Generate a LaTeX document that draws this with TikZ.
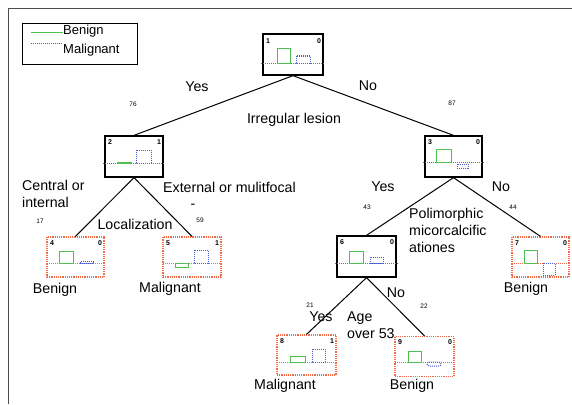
\documentclass[tikz,border=0pt]{standalone}
\usepackage{fontspec}
\setmainfont{Liberation Sans}
\definecolor{bgreen}{HTML}{4FC04F}
\definecolor{mblue}{HTML}{4A5AD0}
\definecolor{leafred}{HTML}{F06A4A}
\definecolor{divgray}{HTML}{707070}
\begin{document}
\begin{tikzpicture}[x=1pt,y=-1pt,
  intbox/.style={draw=black,line width=1.3pt,minimum width=#1,minimum height=41pt,inner sep=0pt},
  leafbox/.style={draw=leafred,densely dotted,line width=1.2pt,minimum width=#1,minimum height=40pt,inner sep=0pt},
  edge/.style={draw=black,line width=1pt},
  lbl/.style={font=\fontsize{14.2}{16}\selectfont,inner sep=0pt},
  leglbl/.style={font=\fontsize{13}{15}\selectfont,inner sep=0pt},
  mlbl/.style={font=\fontsize{14.2}{17}\selectfont,inner sep=0pt,align=left},
  num/.style={font=\fontsize{6.5}{7}\selectfont,inner sep=0pt},
  cnum/.style={font=\fontsize{7}{8}\selectfont\bfseries,inner sep=0pt},
  gbar/.style={draw=bgreen,line width=1pt},
  bbar/.style={draw=mblue,densely dotted,line width=1pt},
  gdiv/.style={draw=divgray,densely dotted,line width=1pt},
  rdiv/.style={draw=leafred,densely dotted,line width=1pt}]
\useasboundingbox (0,0) rectangle (572,404);
% frame
\draw[line width=0.6pt,black!70] (8,404) -- (8,8) -- (572,8);
% legend
\node[draw=black,line width=1pt,minimum width=115pt,minimum height=40pt,inner sep=0pt] (legend) at (79.5,44) {};
\coordinate (lg1a) at (31,33); \coordinate (lg1b) at (63,33);
\coordinate (lg2a) at (31,44); \coordinate (lg2b) at (63,44);
\draw[gbar] (lg1a) -- (lg1b);
\draw[bbar] (lg2a) -- (lg2b);
\node[leglbl,anchor=west] (legben) at (63,31) {Benign};
\node[leglbl,anchor=west] (legmal) at (63,50) {Malignant};
% nodes
\node[intbox=60pt] (n1) at (293,54.5) {};
\node[intbox=58pt] (n2) at (134,156.5) {};
\node[intbox=57pt] (n3) at (453.5,156.5) {};
\node[leafbox=57pt] (n4) at (75.5,257) {};
\node[leafbox=58pt] (n5) at (192,257) {};
\node[intbox=59pt] (n6) at (366.5,256.5) {};
\node[leafbox=57pt] (n7) at (540.5,257) {};
\node[leafbox=59pt] (n8) at (306.5,355) {};
\node[leafbox=59pt] (n9) at (424.5,356.5) {};
% dividers
\draw[gdiv] (261,63) -- (325,63);
\draw[gdiv] (103,163) -- (165,163);
\draw[gdiv] (423,162) -- (484,162);
\draw[gdiv] (335,263) -- (398,263);
\draw[rdiv] (47,263) -- (104,263);
\draw[rdiv] (163,263) -- (221,263);
\draw[rdiv] (512,263) -- (569,263);
\draw[rdiv] (277,362) -- (336,362);
\draw[rdiv] (395,362) -- (454,362);
% bars
\draw[gbar] (277,49) rectangle (290,63);
\draw[bbar] (296,56) rectangle (310,63);
\draw[gbar,line width=1.4pt] (117,163) -- (132,163);
\draw[bbar] (136,150) rectangle (151,163);
\draw[gbar] (436,149) rectangle (451,162);
\draw[bbar] (457,164) rectangle (468,168);
\draw[gbar] (59,251) rectangle (73,263);
\draw[bbar] (80,261.5) rectangle (93,263.5);
\draw[gbar] (175,263) rectangle (188,267);
\draw[bbar] (194,250) rectangle (208,263);
\draw[gbar] (349,251) rectangle (363,263);
\draw[bbar] (370,257) rectangle (383,263);
\draw[gbar] (524,250) rectangle (537,263);
\draw[bbar] (543,263) rectangle (555,275);
\draw[gbar] (290,356) rectangle (305,362);
\draw[bbar] (312,349) rectangle (325,362);
\draw[gbar] (408,351) rectangle (421,362);
\draw[bbar,rounded corners=2pt] (427,362) rectangle (441,366);
% corner numbers
\node[cnum] (c1l) at (268,41) {1}; \node[cnum] (c1r) at (319,41) {0};
\node[cnum] (c2l) at (110,142) {2}; \node[cnum] (c2r) at (159,142) {1};
\node[cnum] (c3l) at (430,142) {3}; \node[cnum] (c3r) at (478,142) {0};
\node[cnum] (c4l) at (52,243) {4}; \node[cnum] (c4r) at (100,243) {0};
\node[cnum] (c5l) at (168,243) {5}; \node[cnum] (c5r) at (217,243) {1};
\node[cnum] (c6l) at (342,242) {6}; \node[cnum] (c6r) at (392,242) {0};
\node[cnum] (c7l) at (517,243) {7}; \node[cnum] (c7r) at (565,243) {0};
\node[cnum] (c8l) at (282,341) {8}; \node[cnum] (c8r) at (332,341) {1};
\node[cnum] (c9l) at (400,342) {9}; \node[cnum] (c9r) at (450,342) {0};
% edges
\draw[edge] (n1.south) -- (n2.north);
\draw[edge] (n1.south) -- (n3.north);
\draw[edge] (n2.south) -- (n4.north);
\draw[edge] (n2.south) -- (n5.north);
\draw[edge] (n3.south) -- (n6.north);
\draw[edge] (n3.south) -- (n7.north);
\draw[edge] (n6.south) -- (n8.north);
\draw[edge] (n6.south) -- (n9.north);
% labels
\node[lbl] (yes1) at (197,87) {Yes};
\node[lbl] (no1) at (368,86) {No};
\node[num] (k76) at (133,104) {76};
\node[num] (k87) at (452,103) {87};
\node[lbl] (irr) at (294,120) {Irregular lesion};
\node[mlbl,anchor=north west] (cent) at (22,180) {Central or\\internal};
\node[lbl,anchor=west] (ext) at (163,187) {External or mulitfocal};
\node[lbl] (dash) at (193,206) {-};
\node[num] (k59) at (200,220) {59};
\node[num] (k17) at (40,221) {17};
\node[lbl] (loc) at (135,224) {Localization};
\node[lbl] (ben4) at (55,290) {Benign};
\node[lbl] (mal5) at (170,289) {Malignant};
\node[lbl] (yes3) at (383,187) {Yes};
\node[lbl] (no3) at (501,187) {No};
\node[num] (k43) at (367,207) {43};
\node[num] (k44) at (513,207) {44};
\node[mlbl,anchor=north west] (poli) at (409,208) {Polimorphic\\micorcalcific\\ationes};
\node[lbl] (yes6) at (321,317) {Yes};
\node[lbl] (no6) at (396,293) {No};
\node[num] (k21) at (310,305) {21};
\node[num] (k22) at (424,306) {22};
\node[mlbl,anchor=north west] (age) at (347,312) {Age\\over 53};
\node[lbl] (ben7) at (526,289) {Benign};
\node[lbl] (mal8) at (285,386) {Malignant};
\node[lbl] (ben9) at (412,386) {Benign};
\end{tikzpicture}
\end{document}
